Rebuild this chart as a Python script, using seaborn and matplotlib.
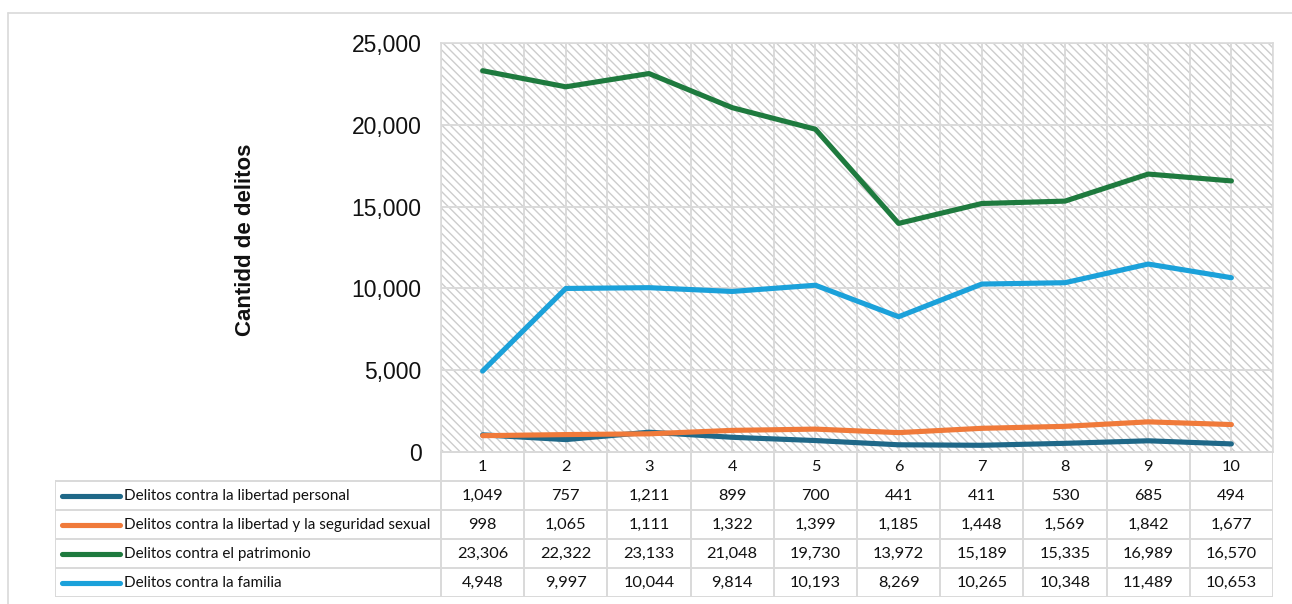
import matplotlib
matplotlib.use("Agg")
import matplotlib.pyplot as plt
from matplotlib.patches import Rectangle
from matplotlib.lines import Line2D
from matplotlib.ticker import FuncFormatter, MultipleLocator
import seaborn as sns
import pandas as pd

# ---------------- data ----------------
categories = [1, 2, 3, 4, 5, 6, 7, 8, 9, 10]
series_names = [
    "Delitos contra la libertad personal",
    "Delitos contra la libertad y la seguridad sexual",
    "Delitos contra el patrimonio",
    "Delitos contra la familia",
]
libertad_personal = [1049, 757, 1211, 899, 700, 441, 411, 530, 685, 494]
libertad_sexual = [998, 1065, 1111, 1322, 1399, 1185, 1448, 1569, 1842, 1677]
patrimonio = [23306, 22322, 23133, 21048, 19730, 13972, 15189, 15335, 16989, 16570]
familia = [4948, 9997, 10044, 9814, 10193, 8269, 10265, 10348, 11489, 10653]
series_values = [libertad_personal, libertad_sexual, patrimonio, familia]
colors = ["#1F6888", "#F07A3A", "#1E7A3E", "#1BA1DA"]
y_ticks = [0, 5000, 10000, 15000, 20000, 25000]
y_label = "Cantidd de delitos"

df = pd.DataFrame(
    [(c, name, v) for name, vals in zip(series_names, series_values) for c, v in zip(categories, vals)],
    columns=["cat", "serie", "valor"],
)

sns.set_theme(style="white")
plt.rcParams["font.family"] = ["Liberation Sans", "DejaVu Sans"]

W, H = 1292, 604
fig = plt.figure(figsize=(W / 100, H / 100), dpi=100)

# plot area in pixels
L, R, T, B = 441, 1273, 43, 452
ax = fig.add_axes([L / W, 1 - B / H, (R - L) / W, (B - T) / H])
ax.set_facecolor("white")
plt.rcParams["hatch.linewidth"] = 1.0
ax.add_patch(Rectangle((0, 0), 1, 1, transform=ax.transAxes, facecolor="white",
                       edgecolor="#CDCDCD", hatch="\\\\\\\\", lw=0, zorder=0))

sns.lineplot(data=df, x="cat", y="valor", hue="serie", hue_order=series_names,
             palette=dict(zip(series_names, colors)), linewidth=3.7, legend=False,
             ax=ax, zorder=3, solid_capstyle="round")

ax.set_xlim(0.5, 10.5)
ax.set_ylim(0, 25000)
ax.set_yticks(y_ticks)
ax.yaxis.set_major_formatter(FuncFormatter(lambda v, p: f"{int(v):,}"))
ax.xaxis.set_major_locator(MultipleLocator(0.5))
ax.set_xticklabels([])
ax.tick_params(axis="both", length=0)
ax.tick_params(axis="y", labelsize=16.5, pad=14, colors="#111111")
ax.grid(True, color="#DADADA", linewidth=1.4)
ax.set_axisbelow(True)
for s in ax.spines.values():
    s.set_color("#DADADA")
    s.set_linewidth(1.2)
ax.set_xlabel("")
ax.set_ylabel(y_label, fontsize=16, fontweight="bold", color="#111111")
ax.yaxis.set_label_coords((256 - L) / (R - L), (B - 240) / (B - T))

# ---------------- data table ----------------
TL, TB = 55, 597
px_per_unit = (R - L) / 10.0
x_left = 0.5 - (L - TL) / px_per_unit
tax = fig.add_axes([TL / W, 1 - TB / H, (R - TL) / W, (TB - B) / H])
tax.set_xlim(x_left, 10.5)
tax.set_ylim(5, 0)
tax.axis("off")
gc, glw = "#D9D9D9", 1.4
nrows = len(series_names) + 1
for r in range(nrows + 1):
    x0 = 0.5 if r == 0 else x_left
    tax.plot([x0, 10.5], [r, r], color=gc, lw=glw, solid_capstyle="butt")
for k in range(len(categories) + 1):
    tax.plot([0.5 + k, 0.5 + k], [0, nrows], color=gc, lw=glw, solid_capstyle="butt")
tax.plot([x_left, x_left], [1, nrows], color=gc, lw=glw)

tfont = ["Lato", "DejaVu Sans"]
num_fs, lab_fs = 11.8, 11
for c in categories:
    tax.text(c, 0.52, str(c), ha="center", va="center", fontsize=num_fs, family=tfont, color="#111111")
for r, (name, vals, col) in enumerate(zip(series_names, series_values, colors), start=1):
    k0 = x_left + 7 / px_per_unit
    k1 = x_left + 65 / px_per_unit
    tax.plot([k0, k1], [r + 0.5, r + 0.5], color=col, lw=3.7, solid_capstyle="round")
    tax.text(x_left + 69 / px_per_unit, r + 0.52, name, ha="left", va="center",
             fontsize=lab_fs, family=tfont, color="#111111")
    for c, v in zip(categories, vals):
        tax.text(c, r + 0.52, f"{v:,}", ha="center", va="center", fontsize=num_fs,
                 family=tfont, color="#111111")

# outer chart border (top & left visible)
fig.add_artist(Line2D([8 / W, 1], [1 - 13 / H, 1 - 13 / H], transform=fig.transFigure, color="#D9D9D9", lw=1.2))
fig.add_artist(Line2D([8 / W, 8 / W], [0, 1 - 13 / H], transform=fig.transFigure, color="#D9D9D9", lw=1.2))

fig.savefig("out.png", dpi=100)
